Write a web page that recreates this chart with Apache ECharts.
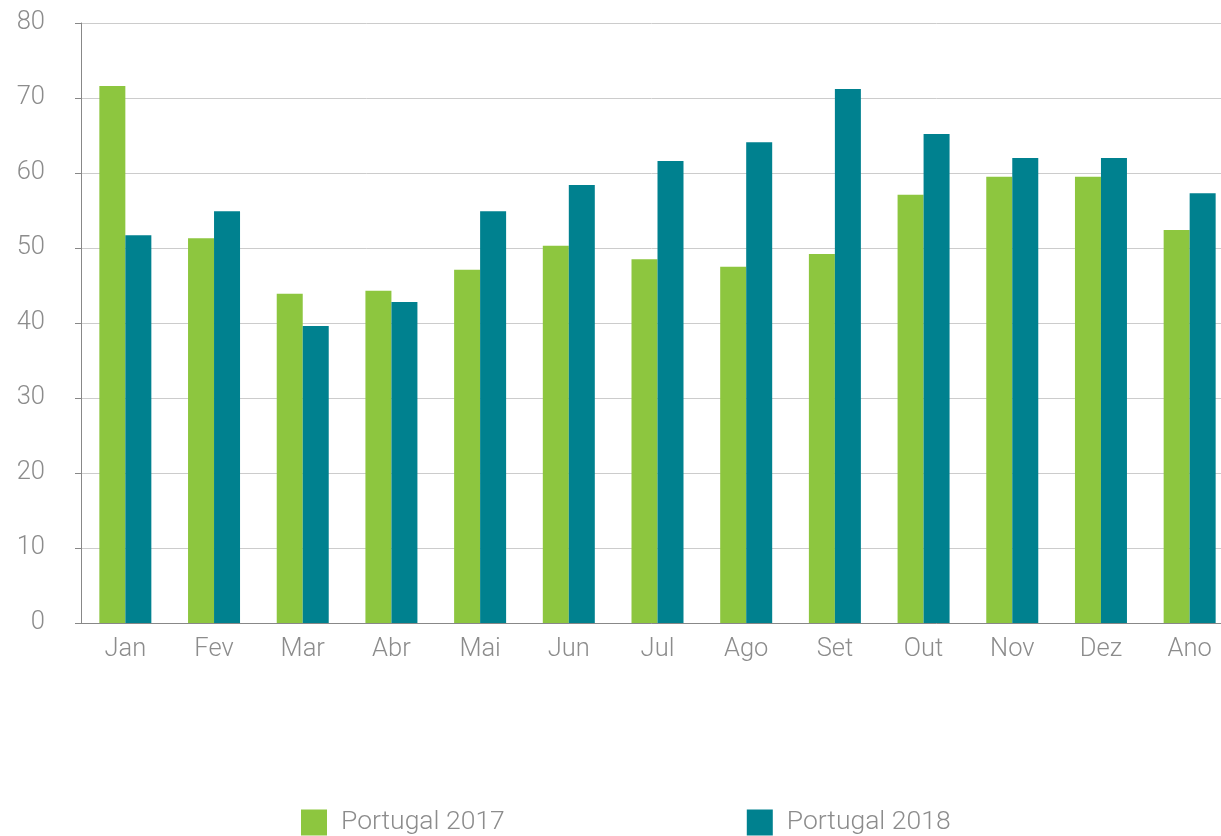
<!DOCTYPE html>
<html><head><meta charset="utf-8">
<script src="https://cdn.jsdelivr.net/npm/echarts@6/dist/echarts.min.js"></script>
<style>html,body{margin:0;padding:0;background:#fff}#c{width:1221px;height:836px}</style>
</head><body><div id="c"></div>
<script>
const categories = ['Jan','Fev','Mar','Abr','Mai','Jun','Jul','Ago','Set','Out','Nov','Dez','Ano'];
const portugal2017 = [71.6, 51.3, 43.9, 44.3, 47.1, 50.3, 48.5, 47.5, 49.2, 57.1, 59.5, 59.5, 52.4];
const portugal2018 = [51.7, 54.9, 39.6, 42.8, 54.9, 58.4, 61.6, 64.1, 71.2, 65.2, 62.0, 62.0, 57.3];
const seriesNames = ['Portugal 2017', 'Portugal 2018'];
const chart = echarts.init(document.getElementById('c'));
const font = 'Roboto';
chart.setOption({
  animation: false,
  grid: { left: 81, width: 1153, top: 23, height: 600, outerBoundsMode: 'none', containLabel: false },
  legend: {
    top: 809, left: 301, padding: 0, itemGap: 242, itemWidth: 26, itemHeight: 26,
    icon: 'rect',
    textStyle: { fontFamily: font, fontWeight: 300, fontSize: 26.5, color: '#8c8c8c', padding: [0,0,0,9] },
    data: seriesNames
  },
  xAxis: {
    type: 'category', data: categories,
    axisLine: { lineStyle: { color: '#888', width: 1 } },
    axisTick: { show: false },
    axisLabel: { fontFamily: font, fontWeight: 300, fontSize: 25.5, color: '#8c8c8c', margin: 14 }
  },
  yAxis: {
    type: 'value', min: 0, max: 80, interval: 10,
    axisLine: { show: true, lineStyle: { color: '#888', width: 1 } },
    axisTick: { show: true, length: 6, lineStyle: { color: '#888' } },
    splitLine: { lineStyle: { color: '#cccccc', width: 1 } },
    axisLabel: { fontFamily: font, fontWeight: 300, fontSize: 25.5, color: '#8c8c8c', margin: 36 }
  },
  series: [
    { name: seriesNames[0], type: 'bar', data: portugal2017, barWidth: 26, barGap: '0%', itemStyle: { color: '#8dc63f' } },
    { name: seriesNames[1], type: 'bar', data: portugal2018, barWidth: 26, barGap: '0%', itemStyle: { color: '#00818f' } }
  ]
});
</script></body></html>
